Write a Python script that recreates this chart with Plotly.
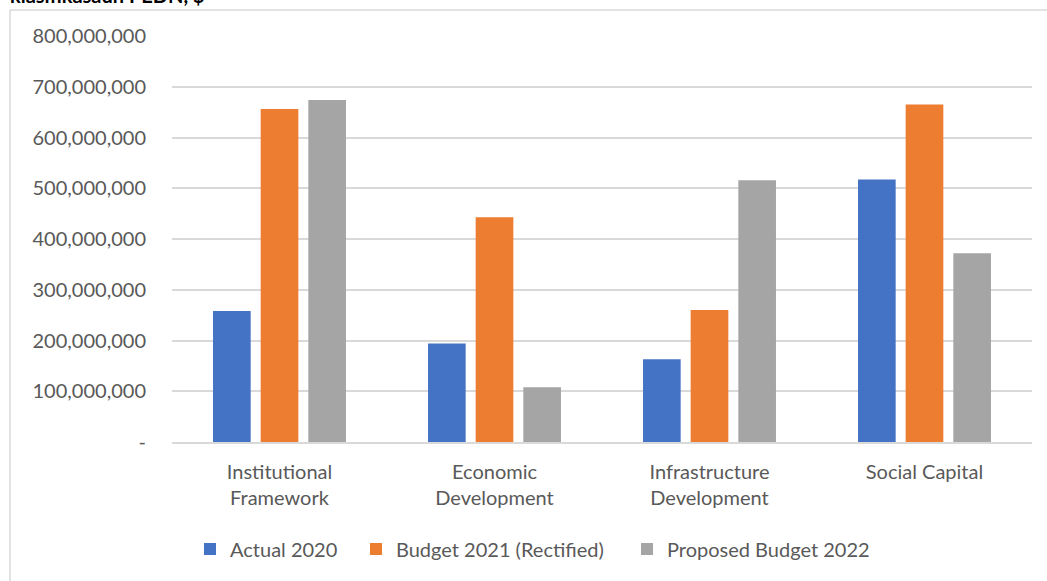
import plotly.graph_objects as go

categories = ["Institutional<br>Framework", "Economic<br>Development",
              "Infrastructure<br>Development", "Social Capital"]
series_names = ["Actual 2020", "Budget 2021 (Rectified)", "Proposed Budget 2022"]
actual_2020 = [258e6, 194e6, 163e6, 517e6]
budget_2021 = [656e6, 443e6, 260e6, 665e6]
proposed_2022 = [674e6, 108e6, 516e6, 372e6]
colors = ["#4472C4", "#ED7D31", "#A5A5A5"]
tick_vals = [0, 100e6, 200e6, 300e6, 400e6, 500e6, 600e6, 700e6, 800e6]
tick_text = ["-", "100,000,000", "200,000,000", "300,000,000", "400,000,000",
             "500,000,000", "600,000,000", "700,000,000", "800,000,000"]
title_text = "klasifikasaun PEDN, $"

FONT = "Lato"
W, H = 1047, 581
L, R, T, B = 172, 15, 36, 139
pw, ph = W - L - R, H - T - B

def px_x(p):
    return (p - L) / pw

def px_y(p):
    return (H - B - p) / ph

legend_ids = ["legend", "legend2", "legend3"]
legend_px = [190, 356, 627]

fig = go.Figure()
for name, vals, col, lid in zip(series_names, [actual_2020, budget_2021, proposed_2022],
                                colors, legend_ids):
    fig.add_trace(go.Bar(x=categories, y=vals, name=name, marker_color=col,
                         marker_line_width=0, legend=lid))

legend_common = dict(orientation="h", yanchor="middle", xanchor="left",
                     font=dict(family=FONT, size=20, color="#595959"),
                     bgcolor="rgba(0,0,0,0)", itemclick=False, itemdoubleclick=False)

fig.update_layout(
    width=W, height=H,
    margin=dict(l=L, r=R, t=T, b=B),
    paper_bgcolor="white", plot_bgcolor="white",
    font=dict(family=FONT, size=20, color="#595959"),
    barmode="group", bargap=0.335, bargroupgap=0.21,
    showlegend=True,
    legend=dict(x=px_x(legend_px[0]), y=px_y(549), **legend_common),
    legend2=dict(x=px_x(legend_px[1]), y=px_y(549), **legend_common),
    legend3=dict(x=px_x(legend_px[2]), y=px_y(549), **legend_common),
    xaxis=dict(showline=True, linecolor="#D9D9D9", linewidth=2, showgrid=False,
               ticks="", ticklabelstandoff=11,
               tickfont=dict(family=FONT, size=20, color="#595959"),
               fixedrange=True),
    yaxis=dict(range=[0, 800e6], tickvals=tick_vals, ticktext=tick_text,
               showgrid=True, gridcolor="#D9D9D9", gridwidth=1.5, zeroline=False,
               showline=False, ticks="", ticklabelstandoff=25,
               tickfont=dict(family=FONT, size=20, color="#595959"),
               fixedrange=True),
    shapes=[dict(type="rect", xref="paper", yref="paper",
                 x0=px_x(10), x1=px_x(W + 20), y0=px_y(10), y1=px_y(H + 20),
                 line=dict(color="#D9D9D9", width=1.5), fillcolor="rgba(0,0,0,0)",
                 layer="below")],
    annotations=[dict(text="<b>" + title_text + "</b>", xref="paper", yref="paper",
                      x=px_x(8), y=px_y(9), xanchor="left", yanchor="bottom",
                      showarrow=False, font=dict(family=FONT, size=20, color="#000000"))],
)

fig.write_html("out.html", config={"displayModeBar": False},
               post_script="document.body.style.margin='0';")
